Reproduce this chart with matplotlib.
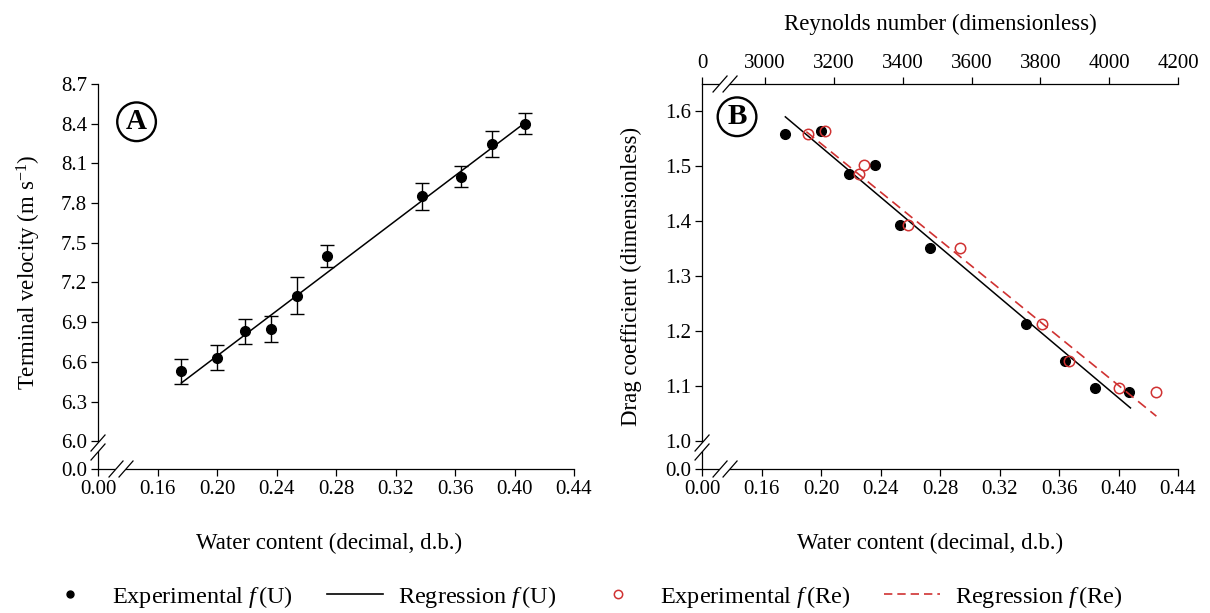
import matplotlib
matplotlib.use("Agg")
import matplotlib.pyplot as plt
from matplotlib.lines import Line2D
from matplotlib.patches import Polygon

plt.rcParams['font.family'] = ['Liberation Serif', 'DejaVu Serif']
plt.rcParams['mathtext.fontset'] = 'custom'
plt.rcParams['mathtext.rm'] = 'Liberation Serif'
plt.rcParams['mathtext.it'] = 'Liberation Serif:italic'

# ---- data ----
# panel A: terminal velocity vs water content
water_a = [0.176, 0.200, 0.219, 0.236, 0.254, 0.274, 0.338, 0.364, 0.385, 0.407]
velocity = [6.53, 6.63, 6.83, 6.85, 7.10, 7.40, 7.85, 8.00, 8.25, 8.40]
velocity_err = [0.095, 0.095, 0.097, 0.10, 0.14, 0.083, 0.10, 0.08, 0.098, 0.08]
reg_a_x = [0.176, 0.405]
reg_a_y = [6.44, 8.39]

# panel B: drag coefficient vs water content (bottom) and Reynolds number (top)
water_b = [0.176, 0.200, 0.219, 0.236, 0.253, 0.273, 0.338, 0.364, 0.384, 0.407]
reynolds = [3126, 3175, 3273, 3289, 3415, 3567, 3806, 3884, 4027, 4136]
drag = [1.558, 1.564, 1.486, 1.501, 1.392, 1.350, 1.212, 1.145, 1.096, 1.089]
reg_b_x = [0.176, 0.408]
reg_b_y = [1.589, 1.060]
reg_re_x = [3120, 4137]
reg_re_y = [1.562, 1.045]

# tick labels
x_ticks = [0.16, 0.20, 0.24, 0.28, 0.32, 0.36, 0.40, 0.44]
a_yticks = [6.0, 6.3, 6.6, 6.9, 7.2, 7.5, 7.8, 8.1, 8.4, 8.7]
b_yticks = [1.0, 1.1, 1.2, 1.3, 1.4, 1.5, 1.6]
re_ticks = [3000, 3200, 3400, 3600, 3800, 4000, 4200]

# where the "0" sits after each axis break
X_ZERO = 0.12
A_Y_ZERO = 5.79
B_Y_ZERO = 0.949
RE_ZERO = 2817

RED = '#d03232'
TICK_FS = 15
LABEL_FS = 16.5

fig = plt.figure(figsize=(12.1, 6.13), dpi=100)
ax_a = fig.add_axes([0.081, 0.2349, 0.3934, 0.628])
ax_b = fig.add_axes([0.5802, 0.2349, 0.3934, 0.628])
ax_top = ax_b.twiny()


def style(ax):
    ax.tick_params(direction='out', length=5, width=0.9, labelsize=TICK_FS, pad=3)
    for s in ax.spines.values():
        s.set_linewidth(0.9)


def axis_break(ax, centers):
    # centers in pixels from lower-left of the axes, two parallel slashes
    bb = ax.get_position()
    wpx = bb.width * fig.get_figwidth() * fig.dpi
    hpx = bb.height * fig.get_figheight() * fig.dpi
    dx, dy = 7 / wpx, 8 / hpx
    (x1, y1), (x2, y2) = [(cx / wpx, cy / hpx) for cx, cy in centers]
    gap = Polygon([(x1 - dx, y1 - dy), (x1 + dx, y1 + dy), (x2 + dx, y2 + dy), (x2 - dx, y2 - dy)],
                  closed=True, transform=ax.transAxes, fc='white', ec='none',
                  clip_on=False, zorder=10)
    ax.add_patch(gap)
    for cx, cy in [(x1, y1), (x2, y2)]:
        ax.plot([cx - dx, cx + dx], [cy - dy, cy + dy], color='black', lw=0.9,
                transform=ax.transAxes, clip_on=False, zorder=11)


# ---- panel A ----
ax_a.plot(reg_a_x, reg_a_y, color='black', lw=1.1, zorder=2)
ax_a.errorbar(water_a, velocity, yerr=velocity_err, fmt='o', color='black', ms=7,
              capsize=5, elinewidth=1, capthick=1, zorder=3)
ax_a.set_xlim(X_ZERO, 0.44)
ax_a.set_ylim(A_Y_ZERO, 8.7)
ax_a.set_xticks([X_ZERO] + x_ticks, ['0.00'] + ['%.2f' % t for t in x_ticks])
ax_a.set_yticks([A_Y_ZERO] + a_yticks, ['0.0'] + ['%.1f' % t for t in a_yticks])
ax_a.spines['top'].set_visible(False)
ax_a.spines['right'].set_visible(False)
style(ax_a)
ax_a.set_xlabel('Water content (decimal, d.b.)', fontsize=LABEL_FS)
ax_a.xaxis.set_label_coords(0.485, -0.165)
ax_a.set_ylabel('Terminal velocity (m s$^{\\mathregular{-1}}$)', fontsize=LABEL_FS)
ax_a.yaxis.set_label_coords(-0.115, 0.51)
ax_a.text(0.081, 0.902, 'A', transform=ax_a.transAxes, ha='center', va='center',
          fontsize=21, fontweight='bold',
          bbox=dict(boxstyle='circle,pad=0.2', fc='white', ec='black', lw=1.7))
axis_break(ax_a, [(18, 0), (28, 0)])
axis_break(ax_a, [(0, 17), (0, 26)])

# ---- panel B ----
ax_b.plot(reg_b_x, reg_b_y, color='black', lw=1.1, zorder=2)
ax_b.plot(water_b, drag, 'o', color='black', ms=7, zorder=3)
ax_b.set_xlim(X_ZERO, 0.44)
ax_b.set_ylim(B_Y_ZERO, 1.6486)
ax_b.set_xticks([X_ZERO] + x_ticks, ['0.00'] + ['%.2f' % t for t in x_ticks])
ax_b.set_yticks([B_Y_ZERO] + b_yticks, ['0.0'] + ['%.1f' % t for t in b_yticks])
ax_b.spines['top'].set_visible(False)
ax_b.spines['right'].set_visible(False)
style(ax_b)
ax_b.set_xlabel('Water content (decimal, d.b.)', fontsize=LABEL_FS)
ax_b.xaxis.set_label_coords(0.48, -0.165)
ax_b.set_ylabel('Drag coefficient (dimensionless)', fontsize=LABEL_FS)
ax_b.yaxis.set_label_coords(-0.127, 0.5)
ax_b.text(0.0735, 0.915, 'B', transform=ax_b.transAxes, ha='center', va='center',
          fontsize=21, fontweight='bold',
          bbox=dict(boxstyle='circle,pad=0.2', fc='white', ec='black', lw=1.7))
axis_break(ax_b, [(18, 0), (28, 0)])
axis_break(ax_b, [(0, 17), (0, 26)])

# top axis: Reynolds number
ax_top.plot(reg_re_x, reg_re_y, color=RED, lw=1.2, dashes=(6, 3.5), zorder=2)
ax_top.plot(reynolds, drag, 'o', mfc='none', mec=RED, mew=1.1, ms=7.5, zorder=3)
ax_top.set_xlim(RE_ZERO, 4200)
ax_top.set_xticks([RE_ZERO] + re_ticks, ['0'] + [str(t) for t in re_ticks])
for s in ['left', 'right', 'bottom']:
    ax_top.spines[s].set_visible(False)
style(ax_top)
ax_top.set_xlabel('Reynolds number (dimensionless)', fontsize=LABEL_FS)
ax_top.xaxis.set_label_coords(0.5, 1.14)
axis_break(ax_top, [(18, 385), (28, 385)])

# ---- legend ----
handles = [
    Line2D([], [], ls='none', marker='o', color='black', ms=5),
    Line2D([], [], color='black', lw=1.2),
    Line2D([], [], ls='none', marker='o', mfc='none', mec=RED, mew=1.1, ms=6),
    Line2D([], [], color=RED, lw=1.2, dashes=(5, 3)),
]
labels = ['Experimental $f\\,$(U)', 'Regression $f\\,$(U)',
          'Experimental $f\\,$(Re)', 'Regression $f\\,$(Re)']
fig.legend(handles, labels, loc='center', bbox_to_anchor=(0.481, 1 - 597 / 613), ncol=4,
           frameon=False, fontsize=17.5, handlelength=2.3, handletextpad=0.6,
           columnspacing=1.4)

fig.savefig('out.png', dpi=100)
